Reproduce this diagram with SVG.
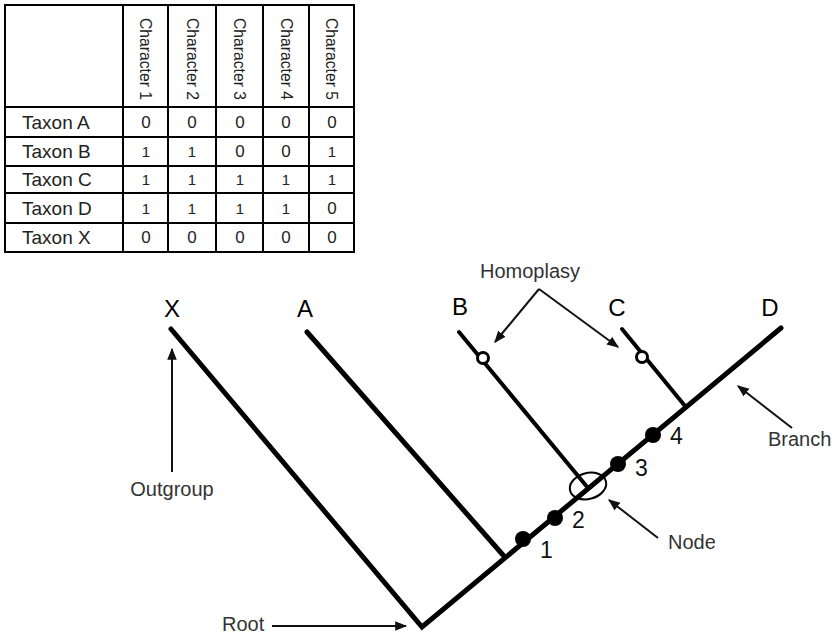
<svg xmlns="http://www.w3.org/2000/svg" width="832" height="635" viewBox="0 0 832 635">
<defs>
<style>
.tl{stroke:#000;stroke-width:2;fill:none}
.tx{font-family:"Liberation Sans",Arial,sans-serif;fill:#222}
.row{font-size:19px}
.hdr{font-size:16px}
.val{font-size:17px;text-anchor:middle}
.one{font-size:15px;text-anchor:middle}
.tip{font-size:24px;text-anchor:middle;fill:#000}
.ann{font-size:20px;fill:#333}
.num{font-size:23px;fill:#111}
.br{stroke:#000;stroke-width:5;fill:none;stroke-linecap:round}
.thin{stroke:#000;stroke-width:4;fill:none;stroke-linecap:round}
.arr{stroke:#111;stroke-width:2;fill:none;marker-end:url(#ah)}
</style>
<marker id="ah" viewBox="0 0 10 10" refX="9" refY="5" markerWidth="6" markerHeight="6" orient="auto" markerUnits="strokeWidth">
<path d="M0,1 L10,5 L0,9 z" fill="#111"/>
</marker>
</defs>
<rect width="832" height="635" fill="#fff"/>

<g id="table">
<rect class="tl" x="5" y="5" width="349" height="247"/>
<line class="tl" x1="123" y1="5" x2="123" y2="252"/>
<line class="tl" x1="168" y1="5" x2="168" y2="252"/>
<line class="tl" x1="216" y1="5" x2="216" y2="252"/>
<line class="tl" x1="263" y1="5" x2="263" y2="252"/>
<line class="tl" x1="309" y1="5" x2="309" y2="252"/>
<line class="tl" x1="5" y1="107" x2="354" y2="107"/>
<line class="tl" x1="5" y1="137" x2="354" y2="137"/>
<line class="tl" x1="5" y1="166" x2="354" y2="166"/>
<line class="tl" x1="5" y1="193" x2="354" y2="193"/>
<line class="tl" x1="5" y1="223" x2="354" y2="223"/>
<g class="tx hdr" text-anchor="middle" dominant-baseline="central">
<text transform="translate(145,59) rotate(90)" textLength="82" lengthAdjust="spacingAndGlyphs">Character 1</text>
<text transform="translate(192,59) rotate(90)" textLength="82" lengthAdjust="spacingAndGlyphs">Character 2</text>
<text transform="translate(239.5,59) rotate(90)" textLength="82" lengthAdjust="spacingAndGlyphs">Character 3</text>
<text transform="translate(286,59) rotate(90)" textLength="82" lengthAdjust="spacingAndGlyphs">Character 4</text>
<text transform="translate(331.5,59) rotate(90)" textLength="82" lengthAdjust="spacingAndGlyphs">Character 5</text>
</g>
<g class="tx row">
<text x="22" y="129">Taxon A</text>
<text x="22" y="158">Taxon B</text>
<text x="22" y="186">Taxon C</text>
<text x="22" y="215">Taxon D</text>
<text x="22" y="244">Taxon X</text>
</g>
<g class="tx val">
<text x="146" y="128">0</text><text x="192" y="128">0</text><text x="240" y="128">0</text><text x="286" y="128">0</text><text x="332" y="128">0</text>
<text x="240" y="157">0</text><text x="286" y="157">0</text>
<text x="332" y="214">0</text>
<text x="146" y="243">0</text><text x="192" y="243">0</text><text x="240" y="243">0</text><text x="286" y="243">0</text><text x="332" y="243">0</text>
</g>
<g class="tx one">
<text x="146" y="157">1</text><text x="192" y="157">1</text><text x="332" y="157">1</text>
<text x="146" y="185">1</text><text x="192" y="185">1</text><text x="240" y="185">1</text><text x="286" y="185">1</text><text x="332" y="185">1</text>
<text x="146" y="214">1</text><text x="192" y="214">1</text><text x="240" y="214">1</text><text x="286" y="214">1</text>
</g>
</g>

<g id="connectors">
<polyline class="br" points="171,329 422,627 781,328" stroke-linejoin="miter" stroke-linecap="round"/>
<line class="br" x1="307" y1="332" x2="503" y2="555"/>
<line class="thin" x1="459" y1="332" x2="588" y2="488"/>
<line class="thin" x1="622" y1="329" x2="685" y2="406"/>
</g>

<g id="tips">
<text class="tx tip" x="172" y="317">X</text>
<text class="tx tip" x="305" y="317">A</text>
<text class="tx tip" x="460" y="315">B</text>
<text class="tx tip" x="617" y="316">C</text>
<text class="tx tip" x="770" y="316">D</text>
</g>

<g id="homoplasy-marks">
<circle cx="483" cy="358" r="5.5" fill="#fff" stroke="#000" stroke-width="3"/>
<circle cx="642" cy="357" r="5.5" fill="#fff" stroke="#000" stroke-width="3"/>
</g>

<g id="characters">
<circle cx="523" cy="539" r="8" fill="#000"/>
<circle cx="555" cy="518" r="8" fill="#000"/>
<circle cx="618" cy="464" r="8" fill="#000"/>
<circle cx="653" cy="435" r="8" fill="#000"/>
<text class="tx num" x="540" y="558">1</text>
<text class="tx num" x="572" y="528">2</text>
<text class="tx num" x="635" y="476">3</text>
<text class="tx num" x="670" y="444">4</text>
</g>

<g id="node">
<ellipse cx="588" cy="486" rx="18.5" ry="13" fill="none" stroke="#000" stroke-width="2" transform="rotate(-15 588 486)"/>
</g>

<g id="labels">
<text class="tx ann" x="480" y="278">Homoplasy</text>
<line class="arr" x1="539" y1="289" x2="495" y2="342"/>
<line class="arr" x1="539" y1="289" x2="618" y2="347"/>
<text class="tx ann" x="172" y="496" text-anchor="middle">Outgroup</text>
<line class="arr" x1="172" y1="472" x2="172" y2="349"/>
<text class="tx ann" x="222" y="631">Root</text>
<line class="arr" x1="272" y1="626" x2="406" y2="626"/>
<text class="tx ann" x="668" y="549">Node</text>
<line class="arr" x1="658" y1="538" x2="609" y2="500"/>
<text class="tx ann" x="768" y="446">Branch</text>
<line class="arr" x1="792" y1="428" x2="738" y2="386"/>
</g>
</svg>
